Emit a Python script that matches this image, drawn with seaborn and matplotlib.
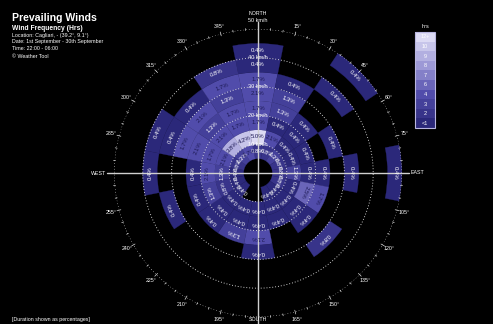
import math
import numpy as np
import matplotlib
matplotlib.use("Agg")
import matplotlib.pyplot as plt
from matplotlib.patches import Rectangle
from matplotlib.colors import ListedColormap
import seaborn as sns

# ---------------- data (hours per direction / speed band) ----------------
directions = ["N", "NNE", "NE", "ENE", "E", "ESE", "SE", "SSE",
              "S", "SSW", "SW", "WSW", "W", "WNW", "NW", "NNW"]
bearings = [0, 22.5, 45, 67.5, 90, 112.5, 135, 157.5,
            180, 202.5, 225, 247.5, 270, 292.5, 315, 337.5]
speed_edges = [5, 10, 15, 20, 25, 30, 35, 40, 45]   # lower edge of each 5 km/h band
total_hours = 240                                   # 30 nights x 8 h

hours_N   = [2, 12, 4, 4, 5, 4, 1, 1, 0]
hours_NNE = [2, 5, 1, 3, 3, 1, 0, 0, 0]
hours_NE  = [3, 1, 1, 1, 0, 0, 1, 0, 1]
hours_ENE = [2, 1, 1, 0, 1, 0, 0, 0, 0]
hours_E   = [2, 3, 1, 1, 0, 1, 0, 0, 1]
hours_ESE = [2, 1, 6, 4, 0, 0, 0, 0, 0]
hours_SE  = [1, 1, 1, 1, 0, 2, 0, 0, 0]
hours_SSE = [1, 1, 1, 0, 0, 0, 0, 0, 0]
hours_S   = [0, 1, 1, 5, 1, 0, 0, 0, 0]
hours_SSW = [0, 1, 1, 3, 0, 0, 0, 0, 0]
hours_SW  = [1, 1, 1, 1, 0, 0, 0, 0, 0]
hours_WSW = [1, 2, 3, 1, 0, 1, 0, 0, 0]
hours_W   = [1, 3, 5, 1, 0, 0, 1, 0, 0]
hours_WNW = [2, 5, 4, 5, 4, 1, 1, 0, 0]
hours_NW  = [3, 9, 5, 3, 5, 1, 0, 0, 0]
hours_NNW = [4, 10, 4, 4, 3, 4, 2, 0, 0]

legend_labels = ["12+", "10", "9", "8", "7", "6", "4", "3", "2", "<1"]
legend_levels = [12, 10, 9, 8, 7, 6, 4, 3, 2, 1]
ring_speeds = [10, 20, 30, 40, 50]
compass_degrees = list(range(15, 360, 15))
cardinals = {0: "NORTH", 90: "EAST", 180: "SOUTH", 270: "WEST"}

title = "Prevailing Winds"
subtitle = "Wind Frequency (Hrs)"
info_lines = ["Location: Cagliari, - (39.2\u00b0, 9.1\u00b0)",
              "Date: 1st September - 30th September",
              "Time: 22:00 - 06:00",
              "\u00a9 Weather Tool"]
footer = "[Duration shown as percentages]"

hours_table = [hours_N, hours_NNE, hours_NE, hours_ENE, hours_E, hours_ESE,
               hours_SE, hours_SSE, hours_S, hours_SSW, hours_SW, hours_WSW,
               hours_W, hours_WNW, hours_NW, hours_NNW]

# ---------------- style ----------------
sns.set_theme(style="dark", rc={"figure.facecolor": "black",
                                "axes.facecolor": "black",
                                "savefig.facecolor": "black"})
plt.rcParams["font.family"] = ["Liberation Sans", "DejaVu Sans"]

thresholds = sorted(legend_levels)                      # ascending
palette = sns.blend_palette(["#2b287a", "#514cab", "#9d99d6", "#dcdaf4"],
                            n_colors=len(thresholds))
level_cmap = ListedColormap(palette)


def level_index(h):
    return max(i for i, t in enumerate(thresholds) if h >= t)


def pct(h):
    v = math.floor(h / total_hours * 1000 + 0.5) / 10
    return f"{v:.1f}%"


W, H = 493, 324
fig = plt.figure(figsize=(W / 100, H / 100), dpi=100)
cx, cy, R = 258, 173, 144
ax = fig.add_axes([(cx - R) / W, (H - cy - R) / H, 2 * R / W, 2 * R / H],
                  projection="polar")
ax.set_theta_zero_location("N")
ax.set_theta_direction(-1)
ax.set_ylim(0, 50)
ax.axis("off")

width = math.radians(22.5)
for b, row in zip(bearings, hours_table):
    th = math.radians(b)
    for lo, h in zip(speed_edges, row):
        if h <= 0:
            continue
        col = palette[level_index(h)]
        ax.bar(th, 5, width=width, bottom=lo, color=col, edgecolor=col,
               linewidth=0.2, align="center", zorder=2)
        tc = "white" if h <= 3 else "#1d1a55"
        ax.text(th, lo + 2.5, pct(h), rotation=-b, rotation_mode="anchor",
                ha="center", va="center", fontsize=4.3, color=tc, zorder=5)

# dotted speed rings
tt = np.linspace(0, 2 * np.pi, 721)
for s in ring_speeds:
    ax.plot(tt, np.full_like(tt, s), color="white", lw=0.65,
            linestyle=(0, (1, 2.2)), alpha=0.9, zorder=3)
    if s < 50:
        ax.text(0, s, f"{s} km/h", ha="center", va="center", fontsize=4,
                color="white", zorder=6)
ax.text(0, 53.0, "50 km/h", ha="center", va="center", fontsize=4,
        color="white", zorder=6, clip_on=False)

# compass ticks
for d in range(0, 360, 5):
    th = math.radians(d)
    ln = 1.4 if d % 15 == 0 else 0.7
    ax.plot([th, th], [50 - ln / 2, 50 + ln / 2], color="white", lw=0.5,
            alpha=0.85, zorder=3, clip_on=False)
for d in compass_degrees:
    if d in cardinals:
        continue
    ax.text(math.radians(d), 52.6, f"{d}\u00b0", ha="center", va="center",
            fontsize=3.8, color="white", clip_on=False)
for d, name in cardinals.items():
    rr = 50.9 if d == 180 else 55.3
    ax.text(math.radians(d), rr, name, ha="center", va="center",
            fontsize=3.8, color="white", clip_on=False, zorder=7)

# crosshair
for d in (0, 90, 180, 270):
    ax.plot([math.radians(d)] * 2, [0, 52.5], color="#d0d0d0", lw=1.0,
            zorder=4, clip_on=False)

# legend (heatmap)
lx0, ly0, lw_, lh_ = 415, 32, 20, 96
lax = fig.add_axes([lx0 / W, (H - ly0 - lh_) / H, lw_ / W, lh_ / H])
sns.heatmap(np.array([level_index(v) for v in legend_levels]).reshape(-1, 1),
            ax=lax, cmap=level_cmap, vmin=-0.5, vmax=len(thresholds) - 0.5,
            cbar=False, annot=np.array(legend_labels).reshape(-1, 1), fmt="",
            annot_kws={"fontsize": 4, "color": "white"},
            xticklabels=False, yticklabels=False)
lax.add_patch(Rectangle((0, 0), 1, len(legend_levels), fill=False,
                        edgecolor="#b9b6e0", lw=0.8, clip_on=False))
fig.text((lx0 + lw_ / 2) / W, 1 - 27 / H, "hrs", ha="center", va="center",
         fontsize=4, color="white")

# texts
fig.text(12 / W, 1 - 13 / H, title, fontsize=7.6, fontweight="bold",
         color="white", va="top")
fig.text(12 / W, 1 - 25 / H, subtitle, fontsize=4.9, fontweight="bold",
         color="white", va="top")
for i, line in enumerate(info_lines):
    fig.text(12 / W, 1 - (32.5 + 7 * i) / H, line, fontsize=3.8,
             color="white", va="top")
fig.text(12 / W, 2 / H, footer, fontsize=3.8, color="white", va="bottom")

fig.savefig("out.png", dpi=100, facecolor="black")
